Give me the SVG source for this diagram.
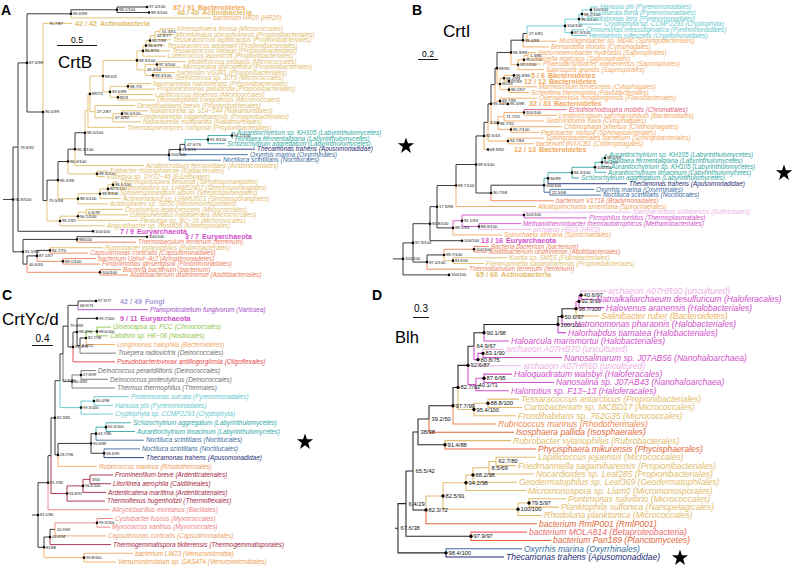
<svg xmlns="http://www.w3.org/2000/svg" width="792" height="570" viewBox="0 0 792 570">
<style>
text{font-family:"Liberation Sans",Arial,sans-serif}
.lf{font-style:italic;font-size:6.4px}
.ld{font-style:italic;font-size:8.5px}
.cl{font-weight:bold;font-size:7.2px}
.bs{font-size:4.2px;fill:#111}
.bc{font-size:4px;fill:#111}
.bd{font-size:5.8px;fill:#111}
.ttl{font-size:17px;fill:#000}
.pl{font-size:14px;font-weight:bold;fill:#000}
.sc{font-size:8.6px;fill:#000;text-anchor:middle}
.br{fill:none;stroke-width:.9}
.brd{fill:none;stroke-width:1.05}
.d{fill:#000}
.sK{stroke:#262626}.sT{stroke:#E2BC6C}.sO{stroke:#F3A85E}.sC{stroke:#EC7F5B}.sM{stroke:#D24FCC}.sL{stroke:#EDB0E5}
.sQ{stroke:#2FA8A3}.sY{stroke:#5FC8CE}.sS{stroke:#3A6C9E}.sN{stroke:#1E2C73}.sP{stroke:#E65C7A}.sG{stroke:#8FC448}
.sGr{stroke:#707070}.sR{stroke:#E8443F}.sD{stroke:#A52540}.sA{stroke:#EE8080}.sU{stroke:#A64BC7}.sX{stroke:#E4683A}
.fT{fill:#E2BC6C}.fO{fill:#F3A85E}.fC{fill:#EC7F5B}.fM{fill:#D24FCC}.fL{fill:#EDB0E5}.fQ{fill:#2FA8A3}.fY{fill:#5FC8CE}
.fS{fill:#3A6C9E}.fN{fill:#1E2C73}.fP{fill:#E65C7A}.fG{fill:#8FC448}.fGr{fill:#707070}.fR{fill:#E8443F}.fD{fill:#A52540}
.fA{fill:#EE8080}.fU{fill:#A64BC7}.fV{fill:#A89BDB}.fX{fill:#E4683A}
</style>
<defs>
<polygon id="star" points="0,-8.5 1.94,-2.67 8.08,-2.63 3.14,1.02 5,6.88 0,3.3 -5,6.88 -3.14,1.02 -8.08,-2.63 -1.94,-2.67" fill="#000"/>
</defs>
<rect width="792" height="570" fill="#fff"/>

<!-- ================= PANEL A ================= -->
<g id="panelA">
<text class="pl" x="1" y="15">A</text>
<text class="ttl" x="58" y="68">CrtB</text>
<text class="sc" x="77" y="43">0.5</text>
<path d="M57 45.5H97" stroke="#000" stroke-width="0.9"/>
<g id="A-connectors">
<path class="br sK" d="M3 199.45H13M13 199.45V147.1H18M13 199.45V251.8H23M18 147.1V62.9H27M18 147.1V231.3H93M27 62.9V13.8H71M27 62.9V112H43M71 13.8V9.75H117M117 9.75V7H147M117 9.75V12.5H149M43 112V200.6H47M47 200.6V180.15H58M58 180.15V161.5H68M68 161.5V149.2H75M75 149.2V132.75H85M85 132.75V154.9H169M169 154.9V149.55H180M180 149.55V144.4H185M23 251.8V239.45H77M23 251.8V264.1H27M77 239.45V236.7H147M27 264.1V255.9H37M37 255.9V250.4H50"/>
<path class="br sT" d="M71 13.8V17.9H211M43 112V23.4H72M47 200.6V221H60M58 180.15V198.8H78M68 161.5V173.85H97M75 149.2V165.6H144M85 132.75V110.6H88M88 110.6V93.9H90M88 110.6V127.3H125M90 93.9V76.1H103M90 93.9V111.65H95M103 76.1V60.4H137M103 76.1V91.85H110M137 60.4V50.9H143M137 60.4V69.85H145M143 50.9V45.6H146M143 50.9V56.2H166M146 45.6V40.45H150M146 45.6V50.8H170M150 40.45V35.65H155M150 40.45V45.3H165M155 35.65V31.65H160M155 35.65V39.8H171M160 31.65V28.9H175M160 31.65V34.4H174M145 69.85V64.45H157M145 69.85V75.35H153M157 64.45V61.7H186M157 64.45V67.2H181M153 75.35V72.6H175M153 75.35V78.1H173M110 91.85V86.35H128M110 91.85V97.25H118M128 86.35V83.6H151M128 86.35V89.1H155M118 97.25V94.5H153M118 97.25V100H155M95 111.65V105.5H135M95 111.65V117.8H113M113 117.8V113.65H122M113 117.8V121.9H141M122 113.65V110.9H148M122 113.65V116.4H138M97 173.85V171.1H108M97 173.85V176.6H105M78 198.8V193.7H100M78 198.8V203.9H108M100 193.7V188.9H108M100 193.7V198.5H121M108 188.9V184.75H113M108 188.9V193H118M113 184.75V182H118M113 184.75V187.5H118M60 221V216.2H78M60 221V225.8H105M78 216.2V212.15H86M78 216.2V220.3H138M86 212.15V209.4H123M86 212.15V214.9H128M50 250.4V247.7H103"/>
<path class="br sQ" d="M185 144.4V139.6H208M208 139.6V135.55H232M208 139.6V143.7H225M232 135.55V132.8H235M232 135.55V138.3H233"/>
<path class="br sN" d="M185 144.4V149.2H255"/>
<path class="br sS" d="M169 154.9V160.2H221M180 149.55V154.7H248"/>
<path class="br sC" d="M77 239.45V242.2H136M27 264.1V272.3H100M37 255.9V261.35H63M50 250.4V253.1H88M63 261.35V258.6H96M63 261.35V264.1H100M100 272.3V269.6H121M100 272.3V275H128"/>
</g>
<g id="A-internal">
<g class="d">
<circle cx="13" cy="199.45" r="1.3"/><circle cx="27" cy="62.9" r="1.3"/><circle cx="71" cy="13.8" r="1.3"/><circle cx="117" cy="9.75" r="1.3"/><circle cx="147" cy="7" r="1.3"/><circle cx="149" cy="12.5" r="1.3"/><circle cx="43" cy="112" r="1.3"/><circle cx="150" cy="40.45" r="1.3"/><circle cx="146" cy="45.6" r="1.3"/><circle cx="143" cy="50.9" r="1.3"/><circle cx="137" cy="60.4" r="1.3"/><circle cx="157" cy="64.45" r="1.3"/><circle cx="153" cy="75.35" r="1.3"/><circle cx="103" cy="76.1" r="1.3"/><circle cx="110" cy="91.85" r="1.3"/><circle cx="128" cy="86.35" r="1.3"/><circle cx="118" cy="97.25" r="1.3"/><circle cx="90" cy="93.9" r="1.3"/><circle cx="122" cy="113.65" r="1.3"/><circle cx="85" cy="132.75" r="1.3"/><circle cx="169" cy="154.9" r="1.3"/><circle cx="180" cy="149.55" r="1.3"/><circle cx="208" cy="139.6" r="1.3"/><circle cx="232" cy="135.55" r="1.3"/><circle cx="75" cy="149.2" r="1.3"/><circle cx="68" cy="161.5" r="1.3"/><circle cx="97" cy="173.85" r="1.3"/><circle cx="58" cy="180.15" r="1.3"/><circle cx="113" cy="184.75" r="1.3"/><circle cx="108" cy="188.9" r="1.3"/><circle cx="100" cy="193.7" r="1.3"/><circle cx="78" cy="198.8" r="1.3"/><circle cx="78" cy="216.2" r="1.3"/><circle cx="60" cy="221" r="1.3"/><circle cx="93" cy="231.3" r="1.3"/><circle cx="23" cy="251.8" r="1.3"/><circle cx="77" cy="239.45" r="1.3"/><circle cx="147" cy="236.7" r="1.3"/><circle cx="50" cy="250.4" r="1.3"/><circle cx="37" cy="255.9" r="1.3"/><circle cx="63" cy="261.35" r="1.3"/><circle cx="100" cy="272.3" r="1.3"/>
</g>
<g class="bs">
<text x="15" y="200.9">96.8/100</text><text x="20" y="148.5">79.6/92</text><text x="29" y="64.3">87.6/98</text><text x="73" y="15.2">95.6/99</text><text x="119" y="11.2">98.1/100</text><text x="149" y="8.4">97.4/100</text><text x="151" y="13.9">99.3/100</text><text x="49" y="24.8">75.7/87</text><text x="45" y="113.4">96.6/99</text><text x="162" y="33.05">51.3/51</text><text x="157" y="37.05">62.8/77</text><text x="152" y="41.85">90.7/99</text><text x="148" y="47">84.6/79</text><text x="145" y="52.3">86.8/70</text><text x="139" y="61.8">99.9/100</text><text x="159" y="65.85">97.3/100</text><text x="147" y="71.25">45.4/54</text><text x="155" y="76.75">99.3/100</text><text x="105" y="77.5">99.6/3</text><text x="112" y="93.25">93.6/99</text><text x="130" y="87.75">98.7/3</text><text x="120" y="98.65">82/3</text><text x="92" y="95.3">89/73</text><text x="97" y="113.05">27.2/87</text><text x="115" y="119.2">57.6/92</text><text x="124" y="115.05">96.6/100</text><text x="87" y="134.15">96.5/100</text><text x="171" y="156.3">100/100</text><text x="182" y="150.95">81.5/76</text><text x="187" y="145.8">47.6/76</text><text x="210" y="141">91.9/100</text><text x="234" y="136.95">96.1/100</text><text x="77" y="150.6">96.3/100</text><text x="70" y="162.9">96.4/100</text><text x="99" y="175.25">99.9/100</text><text x="60" y="181.55">95.5/99</text><text x="115" y="186.15">96.6/100</text><text x="110" y="190.3">82.5/100</text><text x="102" y="195.1">99.9/100</text><text x="80" y="200.2">98.5/100</text><text x="49" y="202">75.5/58</text><text x="88" y="213.55">0.6/78</text><text x="80" y="217.6">90.1/100</text><text x="62" y="222.4">95.2/92</text><text x="95" y="232.7">100/100</text><text x="25" y="253.2">91.5/90</text><text x="79" y="240.85">98/100</text><text x="149" y="238.1">100/100</text><text x="52" y="251.8">94.7/70</text><text x="39" y="257.3">87.1/57</text><text x="65" y="262.75">99.1/100</text><text x="29" y="265.5">40.6/30</text><text x="102" y="273.7">100/100</text>
</g>
</g>
<g id="A-leaves">
<g id="A-L1"><text class="cl fO" x="173" y="9.5">87 / 91<tspan dx="3">Bacteroidetes</tspan></text></g>
<g id="A-L2"><text class="cl fT" x="177" y="15">48 / 49<tspan dx="3">Actinobacteria</tspan></text></g>
<g id="A-L3"><text class="lf" fill="#EBA865" x="213" y="20.1">bacterium HR20 (HR20)</text></g>
<g id="A-L4"><text class="cl fT" x="75" y="25.9">42 / 42<tspan dx="3">Actinobacteria</tspan></text></g>
<g id="A-L5"><text class="lf fT" x="177" y="31.1">Kineosphaera limosa (Micrococcales)</text></g>
<g id="A-L6"><text class="lf fT" x="176" y="36.6">Microlunatus phosphovorus (Propionibacteriales)</text></g>
<g id="A-L7"><text class="lf fT" x="173" y="42">Tessaracoccus lapidicaptus (Propionibacteriales)</text></g>
<g id="A-L8"><text class="lf fT" x="167" y="47.5">Tessaracoccus aquimarii (Propionibacteriales)</text></g>
<g id="A-L9"><text class="lf fT" x="172" y="53">Tessaracoccus oleiagri (Propionibacteriales)</text></g>
<g id="A-L10"><text class="lf fT" x="168" y="58.4">Luteococcus japonicus (Propionibacteriales)</text></g>
<g id="A-L11"><text class="lf fT" x="188" y="63.9">Mobilicoccus pelagius (Micrococcales)</text></g>
<g id="A-L12"><text class="lf fT" x="183" y="69.4">Micropruina glycogenica (Propionibacteriales)</text></g>
<g id="A-L13"><text class="lf fT" x="177" y="74.8">bacterium VG341 (Propionibacteriales)</text></g>
<g id="A-L14"><text class="lf fT" x="175" y="80.3">Serinicoccus sp. JLT9 (Micrococcales)</text></g>
<g id="A-L15"><text class="lf fT" x="153" y="85.8">Naumannella halotolerans (Propionibacteriales)</text></g>
<g id="A-L16"><text class="lf fT" x="157" y="91.3">Propionicimonas paludicola (Propionibacteriales)</text></g>
<g id="A-L17"><text class="lf fT" x="155" y="96.7">Lapillicoccus jejuensis (Micrococcales)</text></g>
<g id="A-L18"><text class="lf fT" x="157" y="102.2">Dermatophilus congolensis (Micrococcales)</text></g>
<g id="A-L19"><text class="lf fT" x="137" y="107.7">Desertihabitans brevis (Propionibacteriales)</text></g>
<g id="A-L20"><text class="lf fT" x="150" y="113.1">Nakamurella sp. s14−144 (Nakamurellales)</text></g>
<g id="A-L21"><text class="lf fT" x="140" y="118.6">Friedmanniella sagamiharensis (Propionibacteriales)</text></g>
<g id="A-L22"><text class="lf fT" x="143" y="124.1">Nakamurella multipartita (Nakamurellales)</text></g>
<g id="A-L23"><text class="lf fT" x="127" y="129.5">Thermasporomyces composti (Propionibacteriales)</text></g>
<g id="A-L24"><text class="lf fQ" x="237" y="135">Aurantiochytrium sp. KH105 (Labyrinthulomycetes)</text></g>
<g id="A-L25"><text class="lf fQ" x="235" y="140.5">Hondaea fermentalgiana (Labyrinthulomycetes)</text></g>
<g id="A-L26"><text class="lf fQ" x="227" y="145.9">Schizochytrium aggregatum (Labyrinthulomycetes)</text></g>
<g id="A-L27"><text class="lf fN" x="257" y="151.4">Thecamonas trahens (Apusomonadidae)</text></g>
<g id="A-L28"><text class="lf fS" x="250" y="156.9">Oxyrrhis marina (Oxyrrhinales)</text></g>
<g id="A-L29"><text class="lf fS" x="223" y="162.4">Noctiluca scintillans (Noctilucales)</text></g>
<g id="A-L30"><text class="lf fT" x="146" y="167.8">Acidimicrobium ferrooxidans (Acidimicrobiales)</text></g>
<g id="A-L31"><text class="lf fT" x="110" y="173.3">Egibacter rhizosphaerae (Egibacterales)</text></g>
<g id="A-L32"><text class="lf fT" x="107" y="178.8">Euzebya sp. DY32−46 (Euzebyales)</text></g>
<g id="A-L33"><text class="lf fT" x="120" y="184.2">Thermopolyspora flexuosa (Streptosporangiales)</text></g>
<g id="A-L34"><text class="lf fT" x="120" y="189.7">Actinomadura sp. LHW52907 (Streptosporangiales)</text></g>
<g id="A-L35"><text class="lf fT" x="120" y="195.2">Sphaerisporangium album (Streptosporangiales)</text></g>
<g id="A-L36"><text class="lf fT" x="123" y="200.7">Actinomadura sp. LHW63021 (Streptosporangiales)</text></g>
<g id="A-L37"><text class="lf fT" x="110" y="206.1">Actinoplanes sp. SE50 (Micromonosporales)</text></g>
<g id="A-L38"><text class="lf fT" x="125" y="211.6">Oryzihumus leptocrescens (Micrococcales)</text></g>
<g id="A-L39"><text class="lf fT" x="130" y="217.1">Luteipulveratus halotolerans (Micrococcales)</text></g>
<g id="A-L40"><text class="lf fT" x="140" y="222.5">Flexivirga sp. BC−16 (Micrococcales)</text></g>
<g id="A-L41"><text class="lf fT" x="107" y="228">Angustibacter sp. Root456 (Kineosporiales)</text></g>
<g id="A-L42"><text class="cl fM" x="120" y="233.8">7 / 9<tspan dx="3">Euryarchaeota</tspan></text></g>
<g id="A-L43"><text class="cl fM" x="185" y="239.2">3 / 7<tspan dx="3">Euryarchaeota</tspan></text></g>
<g id="A-L44"><text class="lf fC" x="138" y="244.4">Thermobaculum terrenum (terrenum)</text></g>
<g id="A-L45"><text class="lf fT" x="105" y="249.9">Rubrobacter xylanophilus (Rubrobacterales)</text></g>
<g id="A-L46"><text class="lf fC" x="90" y="255.3">Capsulimonas corticalis (Capsulimonadales)</text></g>
<g id="A-L47"><text class="lf fC" x="98" y="260.8">bacterium UphvI−Ar2 (Armatimonadetes)</text></g>
<g id="A-L48"><text class="lf fC" x="102" y="266.3">Fimbriimonas ginsengisoli (Fimbriimonadales)</text></g>
<g id="A-L49"><text class="lf fC" x="123" y="271.8">Bacteria bacterium (bacterium)</text></g>
<g id="A-L50"><text class="lf fC" x="130" y="277.2">Abditibacterium utsteinense (Abditibacteriales)</text></g>
</g>
</g>

<!-- ================= PANEL B ================= -->
<g id="panelB">
<text class="pl" x="412" y="15">B</text>
<text class="ttl" x="443" y="37">CrtI</text>
<text class="sc" x="428" y="57">0.2</text>
<path d="M418 59.5H438" stroke="#000" stroke-width="0.9"/>
<use href="#star" x="406" y="146"/>
<use href="#star" x="784" y="173"/>
<g transform="translate(396,0)">
<g id="B-connectors">
<path class="br sK" d="M-3 258.9H7M7 258.9V242.9H17M7 258.9V274.9H53M17 242.9V223.7H34M17 242.9V262.1H31M34 223.7V206.7H41M34 223.7V240.7H66M41 206.7V185.5H60M41 206.7V227.9H57M60 185.5V164.5H80M80 164.5V135.95H88M80 164.5V193H95M95 193V185.2H148M88 135.95V122.4H92M92 122.4V103.85H95M95 103.85V84.6H99M99 84.6V68.2H101M101 68.2V52.45H115M115 52.45V40.2H127M127 40.2V33.55H131M31 262.1V254.95H48"/>
<path class="br sO" d="M60 185.5V206.5H140M88 135.95V149.5H92M92 122.4V140.95H112M95 103.85V123.1H102M99 84.6V101.05H104M104 101.05V98.2H141M104 101.05V103.9H112M101 68.2V83.95H104M104 83.95V78.25H108M104 83.95V89.65H113M108 78.25V75.4H118M108 78.25V81.1H113M113 89.65V86.8H141M113 89.65V92.5H133M115 52.45V64.7H122M122 64.7V59.7H128M122 64.7V69.7H148M128 59.7V55.45H132M128 59.7V64H145M132 55.45V52.6H140M132 55.45V58.3H133.5M127 40.2V46.9H153M131 33.55V41.2H161M102 123.1V116.7H108M102 123.1V129.55H115M108 116.7V112.45H128M108 116.7V121H148M128 112.45V115.3H161M115 129.55V126.7H166M115 129.55V132.4H143M112 140.95V138.1H148M112 140.95V143.8H138M57 227.9V235H106"/>
<path class="br sY" d="M131 33.55V25.9H169M169 25.9V19.1H183M169 25.9V32.65H176M183 19.1V14.1H186M183 19.1V24.1H206M186 14.1V9.85H195M186 14.1V18.4H188M195 9.85V7H202M195 9.85V12.7H197.5M176 32.65V29.8H188M176 32.65V35.5H191"/>
<path class="br sP" d="M128 112.45V109.6H171"/>
<path class="br sQ" d="M148 185.2V178.2H152M152 178.2V172.65H176M176 172.65V167.3H199M176 172.65V178H183M199 167.3V162.3H206M199 167.3V172.3H210M206 162.3V158.05H209M206 162.3V166.6H213M209 158.05V155.2H211M209 158.05V160.9H210"/>
<path class="br sN" d="M152 178.2V183.7H231"/>
<path class="br sS" d="M148 185.2V192.25H154M154 192.25V189.4H198M154 192.25V195.1H205"/>
<path class="br sC" d="M95 193V200.8H158M31 262.1V269.2H71M48 254.95V249.25H78M78 249.25V246.4H93M78 249.25V252.1H91"/>
<path class="br sT" d="M48 254.95V260.65H57M57 260.65V257.8H111M57 260.65V263.5H88"/>
<path class="br sM" d="M57 227.9V220.75H66M66 220.75V215.05H128M66 220.75V226.45H83M128 215.05V217.9H191M83 226.45V223.6H125"/>
<path class="br sL" d="M128 215.05V212.2H235M83 226.45V229.3H135"/>
</g>
<g id="B-internal">
<g class="d">
<circle cx="7" cy="258.9" r="1.3"/><circle cx="53" cy="274.9" r="1.3"/><circle cx="17" cy="242.9" r="1.3"/><circle cx="34" cy="223.7" r="1.3"/><circle cx="41" cy="206.7" r="1.3"/><circle cx="66" cy="240.7" r="1.3"/><circle cx="60" cy="185.5" r="1.3"/><circle cx="80" cy="164.5" r="1.3"/><circle cx="95" cy="193" r="1.3"/><circle cx="148" cy="185.2" r="1.3"/><circle cx="152" cy="178.2" r="1.3"/><circle cx="176" cy="172.65" r="1.3"/><circle cx="199" cy="167.3" r="1.3"/><circle cx="206" cy="162.3" r="1.3"/><circle cx="209" cy="158.05" r="1.3"/><circle cx="88" cy="135.95" r="1.3"/><circle cx="92" cy="149.5" r="1.3"/><circle cx="95" cy="103.85" r="1.3"/><circle cx="112" cy="140.95" r="1.3"/><circle cx="102" cy="123.1" r="1.3"/><circle cx="115" cy="129.55" r="1.3"/><circle cx="128" cy="112.45" r="1.3"/><circle cx="104" cy="101.05" r="1.3"/><circle cx="112" cy="103.9" r="1.3"/><circle cx="101" cy="68.2" r="1.3"/><circle cx="104" cy="83.95" r="1.3"/><circle cx="108" cy="78.25" r="1.3"/><circle cx="118" cy="75.4" r="1.3"/><circle cx="113" cy="81.1" r="1.3"/><circle cx="113" cy="89.65" r="1.3"/><circle cx="115" cy="52.45" r="1.3"/><circle cx="128" cy="59.7" r="1.3"/><circle cx="122" cy="64.7" r="1.3"/><circle cx="127" cy="40.2" r="1.3"/><circle cx="169" cy="25.9" r="1.3"/><circle cx="183" cy="19.1" r="1.3"/><circle cx="186" cy="14.1" r="1.3"/><circle cx="195" cy="9.85" r="1.3"/><circle cx="176" cy="32.65" r="1.3"/><circle cx="57" cy="227.9" r="1.3"/><circle cx="66" cy="220.75" r="1.3"/><circle cx="128" cy="215.05" r="1.3"/><circle cx="83" cy="226.45" r="1.3"/><circle cx="31" cy="262.1" r="1.3"/><circle cx="48" cy="254.95" r="1.3"/><circle cx="78" cy="249.25" r="1.3"/><circle cx="57" cy="260.65" r="1.3"/>
</g>
<g class="bs">
<text x="9" y="260.3">100/100</text><text x="55" y="276.3">100/100</text><text x="19" y="244.3">97.9/100</text><text x="36" y="225.1">94.8/100</text><text x="43" y="208.1">17.9/98</text><text x="68" y="242.1">100/100</text><text x="62" y="186.9">99.7/100</text><text x="82" y="165.9">99.5/100</text><text x="97" y="194.4">90.7/58</text><text x="150" y="186.6">100/100</text><text x="154" y="179.6">56/99</text><text x="178" y="174.05">94.3/100</text><text x="201" y="168.7">100/100</text><text x="208" y="163.7">98.4/99</text><text x="211" y="159.45">98.5/99</text><text x="156" y="193.65">22.5/58</text><text x="90" y="137.35">92.6/43</text><text x="94" y="150.9">68.9/92</text><text x="94" y="123.8">4.2/8</text><text x="97" y="105.25">95.1/21</text><text x="114" y="142.35">94.7/84</text><text x="104" y="124.5">96.7/32</text><text x="117" y="130.95">95.7/100</text><text x="110" y="118.1">71.7/21</text><text x="130" y="113.85">100/100</text><text x="106" y="102.45">69.7/95</text><text x="114" y="105.3">95.3/98</text><text x="103" y="69.6">99/90</text><text x="106" y="85.35">90/93</text><text x="110" y="79.65">98.2/99</text><text x="120" y="76.8">96.8/95</text><text x="115" y="82.5">97/99</text><text x="115" y="91.05">96.2/67</text><text x="117" y="53.85">96.9/99</text><text x="134" y="56.85">1.3/86</text><text x="130" y="61.1">90.6/100</text><text x="124" y="66.1">99.1/100</text><text x="129" y="41.6">99.4/99</text><text x="133" y="34.95">27.6/81</text><text x="171" y="27.3">100/100</text><text x="185" y="20.5">98.3/100</text><text x="188" y="15.5">98.2/100</text><text x="197" y="11.25">100/100</text><text x="178" y="34.05">97.9/100</text><text x="59" y="229.3">99.1/93</text><text x="68" y="222.15">91.1/93</text><text x="130" y="216.45">100/100</text><text x="85" y="227.85">88.9/100</text><text x="33" y="263.5">97.4/100</text><text x="50" y="256.35">99.7/100</text><text x="80" y="250.65">100/100</text><text x="59" y="262.05">81/100</text>
</g>
</g>
<g id="B-leaves">
<g id="B-L1"><text class="lf fY" x="204" y="9.2">Hanusia phi (Pyrenomonadales)</text></g>
<g id="B-L2"><text class="lf fY" x="199" y="14.9">Guillardia theta (Pyrenomonadales)</text></g>
<g id="B-L3"><text class="lf fY" x="190" y="20.6">Rhodomonas lens (Pyrenomonadales)</text></g>
<g id="B-L4"><text class="lf fY" x="208" y="26.3">Cryptophyta sp. CCMP2293 (Cryptophyta)</text></g>
<g id="B-L5"><text class="lf fY" x="190" y="32">Chroomonas mesostigmatica (Pyrenomonadales)</text></g>
<g id="B-L6"><text class="lf fY" x="193" y="37.7">Hemiselmis rufescens (Cryptomonadales)</text></g>
<g id="B-L7"><text class="lf fO" x="163" y="43.4">Mucilaginibacter sp. MD40 (Sphingobacteriales)</text></g>
<g id="B-L8"><text class="lf fO" x="155" y="49.1">Bernardetia litoralis (Cytophagales)</text></g>
<g id="B-L9"><text class="lf fO" x="142" y="54.8">Haliscomenobacter hydrossis (Saprospirales)</text></g>
<g id="B-L10"><text class="lf fO" x="135" y="60.5">Lewinella nigricans (Saprospirales)</text></g>
<g id="B-L11"><text class="lf fO" x="147" y="66.2">Phaeodactylibacter xiamenensis (Saprospirales)</text></g>
<g id="B-L12"><text class="lf fO" x="150" y="71.9">Saprospira grandis (Saprospirales)</text></g>
<g id="B-L13"><text class="cl fO" x="135" y="77.9">5 / 6<tspan dx="3">Bacteroidetes</tspan></text></g>
<g id="B-L14"><text class="cl fO" x="128" y="83.6">12 / 12<tspan dx="3">Bacteroidetes</tspan></text></g>
<g id="B-L15"><text class="lf fO" x="143" y="89">Marinoscillum furvescens (Cytophagales)</text></g>
<g id="B-L16"><text class="lf fO" x="135" y="94.7">Schleiferia thermophila (Flavobacteriales)</text></g>
<g id="B-L17"><text class="lf fO" x="143" y="100.4">Owenweeksia hongkongensis (Flavobacteriales)</text></g>
<g id="B-L18"><text class="cl fO" x="133" y="106.4">32 / 33<tspan dx="3">Bacteroidetes</tspan></text></g>
<g id="B-L19"><text class="lf fP" x="173" y="111.8">Ectothiorhodospira mobilis (Chromatiales)</text></g>
<g id="B-L20"><text class="lf fO" x="163" y="117.5">Lentimicrobium saccharophilum (Bacteroidales)</text></g>
<g id="B-L21"><text class="lf fO" x="150" y="123.2">Sediminitomix flava (Cytophagales)</text></g>
<g id="B-L22"><text class="lf fO" x="168" y="128.9">Chitinophaga pinensis (Chitinophagales)</text></g>
<g id="B-L23"><text class="lf fO" x="145" y="134.6">Pedobacter xixiisoli (Sphingobacteriales)</text></g>
<g id="B-L24"><text class="lf fO" x="150" y="140.3">Sphingobacteriales bacterium (Sphingobacteriales)</text></g>
<g id="B-L25"><text class="lf fO" x="140" y="146">bacterium BVUCB1 (Chitinophagales)</text></g>
<g id="B-L26"><text class="cl fO" x="118" y="152">12 / 13<tspan dx="3">Bacteroidetes</tspan></text></g>
<g id="B-L27"><text class="lf fQ" x="213" y="157.4">Aurantiochytrium sp. KH105 (Labyrinthulomycetes)</text></g>
<g id="B-L28"><text class="lf fQ" x="212" y="163.1">Hondaea fermentalgiana (Labyrinthulomycetes)</text></g>
<g id="B-L29"><text class="lf fQ" x="215" y="168.8">Aurantiochytrium sp. KH105 (Labyrinthulomycetes)</text></g>
<g id="B-L30"><text class="lf fQ" x="212" y="174.5">Aurantiochytrium limacinum (Labyrinthulomycetes)</text></g>
<g id="B-L31"><text class="lf fQ" x="185" y="180.2">Schizochytrium aggregatum (Labyrinthulomycetes)</text></g>
<g id="B-L32"><text class="lf fN" x="233" y="185.9">Thecamonas trahens (Apusomonadidae)</text></g>
<g id="B-L33"><text class="lf fS" x="200" y="191.6">Oxyrrhis marina (Oxyrrhinales)</text></g>
<g id="B-L34"><text class="lf fS" x="207" y="197.3">Noctiluca scintillans (Noctilucales)</text></g>
<g id="B-L35"><text class="lf fC" x="160" y="203">bacterium V1718 (Bradymonadales)</text></g>
<g id="B-L36"><text class="lf fO" x="142" y="208.7">Alkalispirochaeta americana (Spirochaetales)</text></g>
<g id="B-L37"><text class="lf fL" x="237" y="214.4">Saccharolobus solfataricus (Sulfolobales)</text></g>
<g id="B-L38"><text class="lf fM" x="193" y="220.1">Picrophilus torridus (Thermoplasmatales)</text></g>
<g id="B-L39"><text class="lf fM" x="127" y="225.8">Methanothermobacter thermautotrophicus (Methanobacteriales)</text></g>
<g id="B-L40"><text class="lf fL" x="137" y="231.5">archaeon HR03 (HR03)</text></g>
<g id="B-L41"><text class="lf fO" x="108" y="237.2">Spirochaeta africana (Spirochaetales)</text></g>
<g id="B-L42"><text class="cl fM" x="85" y="243.2">13 / 16<tspan dx="3">Euryarchaeota</tspan></text></g>
<g id="B-L43"><text class="lf fC" x="95" y="248.6">Bacteria bacterium (bacterium)</text></g>
<g id="B-L44"><text class="lf fC" x="93" y="254.3">Abditibacterium utsteinense (Abditibacteriales)</text></g>
<g id="B-L45"><text class="lf fT" x="113" y="260">Kordia sp. SM5S (Flavobacteriales)</text></g>
<g id="B-L46"><text class="lf fT" x="90" y="265.7">Friedmanniella sagamiharensis (Propionibacteriales)</text></g>
<g id="B-L47"><text class="lf fC" x="73" y="271.4">Thermobaculum terrenum (terrenum)</text></g>
<g id="B-L48"><text class="cl fT" x="80" y="277.4">65 / 66<tspan dx="3">Actinobacteria</tspan></text></g>
</g>
</g>
</g>

<!-- ================= PANEL C ================= -->
<g id="panelC">
<text class="pl" x="2" y="300">C</text>
<text class="ttl" x="2" y="325">CrtYc/d</text>
<text class="sc" x="42.5" y="342" style="font-size:10px">0.4</text>
<path d="M32 345.5H53" stroke="#000" stroke-width="0.9"/>
<use href="#star" x="305" y="442"/>
<g id="C-connectors">
<path class="br sK" d="M32 515H38M38 515V482.7H48M38 515V547.3H44M48 482.7V455.65H51M51 455.65V417.8H55M55 417.8V380.7H60M55 417.8V454.9H58M60 380.7V353.8H63M63 353.8V326.15H68M68 326.15V305.35H78M68 326.15V346.95H73M78 305.35V301H96M73 346.95V332H77M77 332V318.4H97M77 332V345.6H80M80 345.6V338H86M58 454.9V443.45H91M91 443.45V433.65H96M91 443.45V453.25H104M44 547.3V537H50M50 537V529.4H55"/>
<path class="br sGr" d="M63 353.8V381.5H72M72 381.5V374.95H81M72 381.5V388H115M81 374.95V370.6H96M81 374.95V379.3H108M80 345.6V353.2H116"/>
<path class="br sU" d="M78 305.35V309.7H148"/>
<path class="br sR" d="M73 346.95V361.9H115"/>
<path class="br sG" d="M86 338V331.45H97M97 331.45V327.1H111M97 331.45V335.8H108"/>
<path class="br sO" d="M86 338V344.5H115M58 454.9V466.3H97M44 547.3V557.65H84M84 557.65V553.3H133M84 557.65V562H116"/>
<path class="br sY" d="M60 380.7V407.6H81M81 407.6V401.05H94M81 407.6V414.1H113M94 401.05V396.7H129M94 401.05V405.4H113"/>
<path class="br sQ" d="M96 433.65V427.15H106M106 427.15V422.8H131M106 427.15V431.5H135"/>
<path class="br sS" d="M96 433.65V440.2H144M104 453.25V448.9H140"/>
<path class="br sN" d="M104 453.25V457.6H144"/>
<path class="br sD" d="M51 455.65V493.5H67M67 493.5V485.9H83M67 493.5V501.1H105M83 485.9V479.35H90M83 485.9V492.4H106M90 479.35V475H113M90 479.35V483.7H111M50 537V544.6H111"/>
<path class="br sA" d="M48 482.7V509.8H110M55 529.4V522.85H97M97 522.85V518.5H113M97 522.85V527.2H110"/>
<path class="br" stroke="#E8A36A" d="M55 529.4V535.9H106"/>
</g>
<g id="C-internal">
<g class="d">
<circle cx="38" cy="515" r="1.3"/><circle cx="48" cy="482.7" r="1.3"/><circle cx="44" cy="547.3" r="1.3"/><circle cx="55" cy="417.8" r="1.3"/><circle cx="58" cy="454.9" r="1.3"/><circle cx="91" cy="443.45" r="1.3"/><circle cx="104" cy="453.25" r="1.3"/><circle cx="106" cy="427.15" r="1.3"/><circle cx="96" cy="433.65" r="1.3"/><circle cx="81" cy="407.6" r="1.3"/><circle cx="94" cy="401.05" r="1.3"/><circle cx="72" cy="381.5" r="1.3"/><circle cx="81" cy="374.95" r="1.3"/><circle cx="73" cy="346.95" r="1.3"/><circle cx="77" cy="332" r="1.3"/><circle cx="86" cy="338" r="1.3"/><circle cx="97" cy="331.45" r="1.3"/><circle cx="96" cy="301" r="1.3"/><circle cx="97" cy="318.4" r="1.3"/><circle cx="67" cy="493.5" r="1.3"/><circle cx="83" cy="485.9" r="1.3"/><circle cx="97" cy="522.85" r="1.3"/><circle cx="84" cy="557.65" r="1.3"/><circle cx="50" cy="537" r="1.3"/>
</g>
<g class="bc">
<text x="40" y="516.3">81.5/80</text><text x="50" y="484">91.7/82</text><text x="46" y="548.6">81/88</text><text x="57" y="419.1">82.3/81</text><text x="62" y="382">74.8/79</text><text x="60" y="456.2">28.7/96</text><text x="93" y="444.75">90.6/89</text><text x="106" y="454.55">58.4/99</text><text x="98" y="434.95">43.7/86</text><text x="108" y="428.45">92.3/100</text><text x="83" y="408.9">99.3/100</text><text x="96" y="402.35">80.4/98</text><text x="74" y="382.8">80.3/82</text><text x="83" y="376.25">57.8/99</text><text x="75" y="348.25">98.3/79</text><text x="79" y="333.3">98.4/94</text><text x="82" y="346.9">8.6/12</text><text x="88" y="339.3">82.7/98</text><text x="99" y="332.75">98.6/100</text><text x="80" y="306.65">68.9/73</text><text x="70" y="327.45">79.6/69</text><text x="98" y="302.3">97.3/77</text><text x="99" y="319.7">99.7/100</text><text x="69" y="494.8">94.8/97</text><text x="85" y="487.2">96.6/100</text><text x="92" y="480.65">3/56</text><text x="99" y="524.15">99.9/100</text><text x="57" y="530.7">20.9/69</text><text x="52" y="538.3">44.6/94</text><text x="86" y="558.95">99.8/100</text>
</g>
</g>
<g id="C-leaves">
<g id="C-L1"><text class="cl fV" x="120" y="303.6">42 / 49<tspan dx="3">Fungi</tspan></text></g>
<g id="C-L2"><text class="lf fU" x="150" y="311.9">Planoprotostelium fungivorum (Variosea)</text></g>
<g id="C-L3"><text class="cl fM" x="120" y="321">9 / 11<tspan dx="3">Euryarchaeota</tspan></text></g>
<g id="C-L4"><text class="lf fG" x="113" y="329.3">Gloeocapsa sp. PCC (Chroococcales)</text></g>
<g id="C-L5"><text class="lf fG" x="110" y="338">Calothrix sp. HK−06 (Nostocales)</text></g>
<g id="C-L6"><text class="lf fO" x="117" y="346.7">Longimonas halophila (Bacteroidetes)</text></g>
<g id="C-L7"><text class="lf fGr" x="118" y="355.4">Truepera radiovictrix (Deinococcales)</text></g>
<g id="C-L8"><text class="lf fR" x="117" y="364.1">Pseudobacteriovorax antillogorgiicola (Oligoflexales)</text></g>
<g id="C-L9"><text class="lf fGr" x="98" y="372.8">Deinococcus peraridilitoris (Deinococcales)</text></g>
<g id="C-L10"><text class="lf fGr" x="110" y="381.5">Deinococcus proteolyticus (Deinococcales)</text></g>
<g id="C-L11"><text class="lf fGr" x="117" y="390.2">Thermus thermophilus (Thermales)</text></g>
<g id="C-L12"><text class="lf fY" x="131" y="398.9">Proteomonas sulcata (Pyrenomonadales)</text></g>
<g id="C-L13"><text class="lf fY" x="115" y="407.6">Hanusia phi (Pyrenomonadales)</text></g>
<g id="C-L14"><text class="lf fY" x="115" y="416.3">Cryptophyta sp. CCMP2293 (Cryptophyta)</text></g>
<g id="C-L15"><text class="lf fQ" x="133" y="425">Schizochytrium aggregatum (Labyrinthulomycetes)</text></g>
<g id="C-L16"><text class="lf fQ" x="137" y="433.7">Aurantiochytrium limacinum (Labyrinthulomycetes)</text></g>
<g id="C-L17"><text class="lf fS" x="146" y="442.4">Noctiluca scintillans (Noctilucales)</text></g>
<g id="C-L18"><text class="lf fS" x="142" y="451.1">Noctiluca scintillans (Noctilucales)</text></g>
<g id="C-L19"><text class="lf fN" x="146" y="459.8">Thecamonas trahens (Apusomonadidae)</text></g>
<g id="C-L20"><text class="lf" fill="#EE9A5A" x="99" y="468.5">Rubricoccus marinus (Rhodothermales)</text></g>
<g id="C-L21"><text class="lf fD" x="115" y="477.2">Promineofilum breve (Ardenticatenales)</text></g>
<g id="C-L22"><text class="lf fD" x="113" y="485.9">Litorilinea aerophila (Caldilineales)</text></g>
<g id="C-L23"><text class="lf fD" x="108" y="494.6">Ardenticatena maritima (Ardenticatenales)</text></g>
<g id="C-L24"><text class="lf fD" x="107" y="503.3">Thermoflexus hugenholtzii (Thermoflexales)</text></g>
<g id="C-L25"><text class="lf fA" x="112" y="512">Alicyclobacillus montanus (Bacillales)</text></g>
<g id="C-L26"><text class="lf fA" x="115" y="520.7">Cystobacter fuscus (Myxococcales)</text></g>
<g id="C-L27"><text class="lf fA" x="112" y="529.4">Myxococcus xanthus (Myxococcales)</text></g>
<g id="C-L28"><text class="lf" fill="#E8A36A" x="108" y="538.1">Capsulimonas corticalis (Capsulimonadales)</text></g>
<g id="C-L29"><text class="lf fD" x="113" y="546.8">Thermogemmatispora tikiterensis (Thermogemmatisporales)</text></g>
<g id="C-L30"><text class="lf" fill="#EC9A48" x="135" y="555.5">bacterium LW23 (Verrucomicrobia)</text></g>
<g id="C-L31"><text class="lf" fill="#EC9A48" x="118" y="564.2">Verrucomicrobium sp. GAS474 (Verrucomicrobiales)</text></g>
</g>
</g>

<!-- ================= PANEL D ================= -->
<g id="panelD">
<text class="pl" x="372" y="300">D</text>
<text class="ttl" x="395" y="343" style="font-size:16.5px">Blh</text>
<text class="sc" x="421" y="312" style="font-size:10px">0.3</text>
<path d="M413 317.5H429" stroke="#000" stroke-width="0.9"/>
<use href="#star" x="680" y="558"/>
<g transform="translate(396,0)">
<g id="D-connectors">
<path class="brd sK" d="M-1 528.2H2M2 528.2V503.6H10M2 528.2V552.85H50M10 503.6V470.9H17M10 503.6V536.25H75M17 470.9V431.9H22M17 470.9V509.9H30M22 431.9V419H33M22 431.9V444.75H49M33 419V405.7H57M57 405.7V387.4H62M62 387.4V365.35H72M72 365.35V346.2H78M78 346.2V332.75H88M88 332.75V324.55H162M162 324.55V316.5H166M166 316.5V308.65H180"/>
<path class="brd sM" d="M72 365.35V384.5H80M78 346.2V359.6H82M88 332.75V340.9H113M162 324.55V332.6H170M166 316.5V324.3H176M180 308.65V301.4H183M183 301.4V295.15H185M183 301.4V307.6H208M185 295.15V299.3H198M82 359.6V353.35H87M87 353.35V357.5H166M80 384.5V378.25H88M80 384.5V390.8H113M88 378.25V374.1H116M88 378.25V382.4H158"/>
<path class="brd sL" d="M185 295.15V291H210M82 359.6V365.8H125M87 353.35V349.2H108"/>
<path class="brd" stroke="#EFB35E" d="M180 308.65V315.9H203"/>
<path class="brd sT" d="M62 387.4V409.5H78M78 409.5V403.25H92M78 409.5V415.7H120M92 403.25V399.1H123M92 403.25V407.4H126M49 444.75V440.6H115M30 509.9V495.95H47M47 495.95V482.75H70M47 495.95V509.2H122M70 482.75V474.95H77M70 482.75V490.5H130M77 474.95V467.7H93M77 474.95V482.2H121M93 467.7V461.45H100M93 467.7V473.9H138M100 461.45V457.3H140M100 461.45V465.6H120M122 509.2V502.95H133M122 509.2V515.4H146M133 502.95V498.8H170M133 502.95V507.1H163"/>
<path class="brd" stroke="#EF8A50" d="M57 405.7V424H100"/>
<path class="brd sX" d="M33 419V432.3H118M49 444.75V448.9H140M30 509.9V523.8H141M75 536.25V540.4H155"/>
<path class="brd" stroke="#EE6A6A" d="M75 536.25V532.1H131"/>
<path class="brd sS" d="M50 552.85V548.7H126"/>
<path class="brd sN" d="M50 552.85V557H108"/>
</g>
<g id="D-internal">
<g class="d">
<circle cx="185" cy="295.15" r="1.7"/><circle cx="183" cy="301.4" r="1.7"/><circle cx="180" cy="308.65" r="1.7"/><circle cx="166" cy="316.5" r="1.7"/><circle cx="162" cy="324.55" r="1.7"/><circle cx="88" cy="332.75" r="1.7"/><circle cx="87" cy="353.35" r="1.7"/><circle cx="82" cy="359.6" r="1.7"/><circle cx="72" cy="365.35" r="1.7"/><circle cx="88" cy="378.25" r="1.7"/><circle cx="62" cy="387.4" r="1.7"/><circle cx="92" cy="403.25" r="1.7"/><circle cx="78" cy="409.5" r="1.7"/><circle cx="57" cy="405.7" r="1.7"/><circle cx="49" cy="444.75" r="1.7"/><circle cx="77" cy="474.95" r="1.7"/><circle cx="70" cy="482.75" r="1.7"/><circle cx="133" cy="502.95" r="1.7"/><circle cx="122" cy="509.2" r="1.7"/><circle cx="47" cy="495.95" r="1.7"/><circle cx="30" cy="509.9" r="1.7"/><circle cx="75" cy="536.25" r="1.7"/><circle cx="50" cy="552.85" r="1.7"/>
</g>
<g class="bd">
<text x="187.5" y="297.15">40.6/97</text><text x="185.5" y="303.4">92.9/99</text><text x="182.5" y="310.65">98.7/100</text><text x="168.5" y="318.5">50.6/97</text><text x="164.5" y="326.55">100/100</text><text x="90.5" y="334.75">90.1/98</text><text x="89.5" y="355.35">83.1/90</text><text x="84.5" y="361.6">80.8/75</text><text x="80.5" y="348.2">64.9/67</text><text x="74.5" y="367.35">92.6/87</text><text x="90.5" y="380.25">87.6/95</text><text x="82.5" y="386.5">40.1/71</text><text x="64.5" y="389.4">82.7/93</text><text x="94.5" y="405.25">88.8/100</text><text x="80.5" y="411.5">95.4/100</text><text x="59.5" y="407.7">97.7/99</text><text x="35.5" y="421">39.2/50</text><text x="24.5" y="433.9">38/38</text><text x="51.5" y="446.75">91.4/88</text><text x="102.5" y="463.45">62.7/80</text><text x="95.5" y="469.7">8.5/69</text><text x="79.5" y="476.95">88.2/98</text><text x="72.5" y="484.75">94.2/98</text><text x="135.5" y="504.95">79.5/97</text><text x="124.5" y="511.2">100/100</text><text x="49.5" y="497.95">82.5/91</text><text x="32.5" y="511.9">82.3/72</text><text x="19.5" y="472.9">65.5/42</text><text x="77.5" y="538.25">97.9/97</text><text x="12.5" y="505.6">6.4/29</text><text x="4.5" y="530.2">67.6/38</text><text x="52.5" y="554.85">98.4/100</text>
</g>
</g>
<g id="D-leaves">
<g id="D-L1"><text class="ld fL" x="212" y="294">archaeon A07HR60 (uncultured)</text></g>
<g id="D-L2"><text class="ld fM" x="200" y="302.3">Natrialkaliarchaeum desulfuricum (Haloferacales)</text></g>
<g id="D-L3"><text class="ld fM" x="210" y="310.6">Halovenus aranensis (Halobacteriales)</text></g>
<g id="D-L4"><text class="ld" fill="#EFB35E" x="205" y="318.9">Salinibacter ruber (Bacteroidetes)</text></g>
<g id="D-L5"><text class="ld fM" x="178" y="327.3">Natronomonas pharaonis (Halobacteriales)</text></g>
<g id="D-L6"><text class="ld fM" x="172" y="335.6">Halorhabdus tiamatea (Halobacteriales)</text></g>
<g id="D-L7"><text class="ld fM" x="115" y="343.9">Haloarcula marismortui (Halobacteriales)</text></g>
<g id="D-L8"><text class="ld fL" x="110" y="352.2">archaeon A07HB70 (uncultured)</text></g>
<g id="D-L9"><text class="ld fM" x="168" y="360.5">Nanosalinarum sp. J07AB56 (Nanohaloarchaea)</text></g>
<g id="D-L10"><text class="ld fL" x="127" y="368.8">archaeon A07HR60 (uncultured)</text></g>
<g id="D-L11"><text class="ld fM" x="118" y="377.1">Haloquadratum walsbyi (Haloferacales)</text></g>
<g id="D-L12"><text class="ld fM" x="160" y="385.4">Nanosalina sp. J07AB43 (Nanohaloarchaea)</text></g>
<g id="D-L13"><text class="ld fM" x="115" y="393.8">Halonotius sp. F13−13 (Haloferacales)</text></g>
<g id="D-L14"><text class="ld fT" x="125" y="402.1">Tessaracoccus antarcticus (Propionibacteriales)</text></g>
<g id="D-L15"><text class="ld fT" x="128" y="410.4">Curtobacterium sp. MCBD17 (Micrococcales)</text></g>
<g id="D-L16"><text class="ld fT" x="122" y="418.7">Frondihabitans sp. 762G35 (Micrococcales)</text></g>
<g id="D-L17"><text class="ld" fill="#EF8A50" x="102" y="427">Rubricoccus marinus (Rhodothermales)</text></g>
<g id="D-L18"><text class="ld fX" x="120" y="435.3">Isosphaera pallida (Isosphaerales)</text></g>
<g id="D-L19"><text class="ld fT" x="117" y="443.6">Rubrobacter xylanophilus (Rubrobacterales)</text></g>
<g id="D-L20"><text class="ld fX" x="142" y="451.9">Phycisphaera mikurensis (Phycisphaerales)</text></g>
<g id="D-L21"><text class="ld fT" x="142" y="460.3">Lapillicoccus jejuensis (Micrococcales)</text></g>
<g id="D-L22"><text class="ld fT" x="122" y="468.6">Friedmanniella sagamiharensis (Propionibacteriales)</text></g>
<g id="D-L23"><text class="ld fT" x="140" y="476.9">Nocardioides sp. Leaf285 (Propionibacteriales)</text></g>
<g id="D-L24"><text class="ld fT" x="123" y="485.2">Geodermatophilus sp. Leaf369 (Geodermatophilales)</text></g>
<g id="D-L25"><text class="ld fT" x="132" y="493.5">Micromonospora sp. Llam0 (Micromonosporales)</text></g>
<g id="D-L26"><text class="ld fT" x="172" y="501.8">Pontimonas salivibrio (Micrococcales)</text></g>
<g id="D-L27"><text class="ld fT" x="165" y="510.1">Planktophila sulfonica (Nanopelagicales)</text></g>
<g id="D-L28"><text class="ld fT" x="148" y="518.4">Rhodoluna planktonica (Micrococcales)</text></g>
<g id="D-L29"><text class="ld fX" x="143" y="526.8">bacterium RmlP001 (RmlP001)</text></g>
<g id="D-L30"><text class="ld" fill="#EE6A6A" x="133" y="535.1">bacterium MOLA814 (Betaproteobacteria)</text></g>
<g id="D-L31"><text class="ld fX" x="157" y="543.4">bacterium Pan189 (Planctomycetes)</text></g>
<g id="D-L32"><text class="ld fS" x="128" y="551.7">Oxyrrhis marina (Oxyrrhinales)</text></g>
<g id="D-L33"><text class="ld fN" x="110" y="560">Thecamonas trahens (Apusomonadidae)</text></g>
</g>
</g>
</g>
</svg>
